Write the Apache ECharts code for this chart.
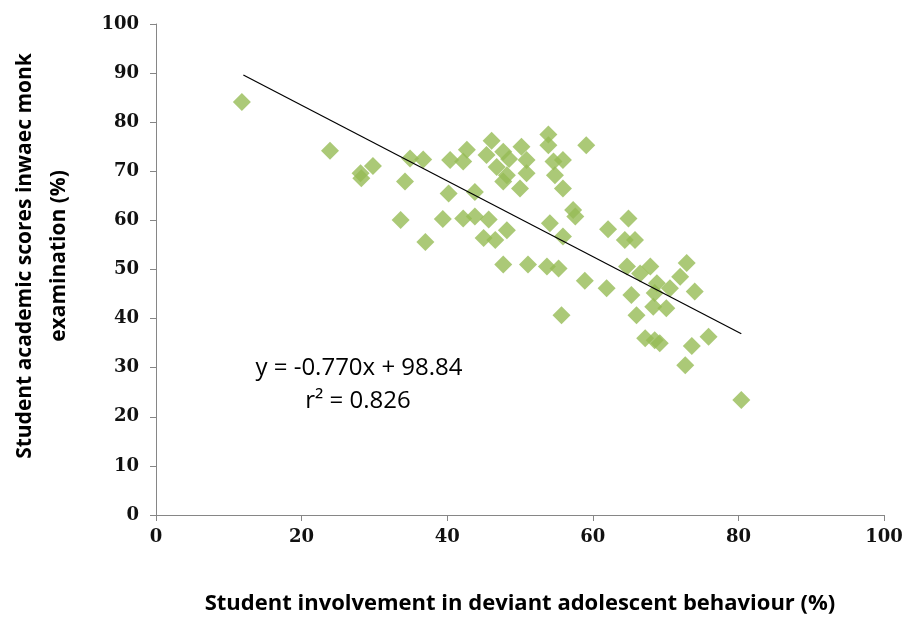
<!DOCTYPE html>
<html>
<head>
<meta charset="utf-8">
<script src="https://cdn.jsdelivr.net/npm/echarts@6/dist/echarts.min.js"></script>
<style>html,body{margin:0;padding:0;background:#fff;}#c{width:906px;height:619px;}</style>
</head>
<body>
<div id="c"></div>
<script>
var xTicks = [0, 20, 40, 60, 80, 100];
var yTicks = [0, 10, 20, 30, 40, 50, 60, 70, 80, 90, 100];
var points = [
  [11.8, 84.1], [23.9, 74.2], [28.1, 69.6], [28.2, 68.6], [29.8, 71.1],
  [33.6, 60.1], [34.2, 67.9], [34.9, 72.6], [36.7, 72.4], [37.0, 55.6],
  [39.4, 60.3], [40.2, 65.5], [40.4, 72.3], [42.2, 72.0], [42.7, 74.4],
  [42.2, 60.4], [43.8, 60.8], [43.8, 65.8], [45.0, 56.4], [45.4, 73.3],
  [45.7, 60.2], [46.1, 76.2], [46.6, 56.0], [46.8, 70.9], [47.7, 74.0],
  [47.7, 67.9], [48.2, 69.2], [48.2, 58.0], [47.7, 51.0], [50.2, 75.0],
  [50.9, 72.3], [50.9, 69.6], [50.0, 66.5], [51.1, 51.0], [53.9, 77.5],
  [53.9, 75.3], [54.6, 72.0], [55.9, 72.3], [54.8, 69.2], [55.9, 66.5],
  [59.1, 75.3], [57.3, 62.1], [57.6, 60.8], [54.1, 59.4], [55.9, 56.7],
  [53.7, 50.6], [55.3, 50.2], [58.9, 47.7], [55.7, 40.7], [62.1, 58.2],
  [64.9, 60.4], [64.4, 56.0], [65.8, 56.0], [61.9, 46.2], [64.7, 50.6],
  [67.9, 50.6], [66.5, 49.2], [72.9, 51.3], [72.0, 48.5], [68.8, 47.2],
  [70.6, 46.2], [68.5, 45.2], [74.0, 45.5], [65.3, 44.8], [68.3, 42.4],
  [70.1, 42.1], [66.0, 40.7], [67.2, 36.0], [68.5, 35.6], [69.2, 35.0],
  [73.6, 34.4], [75.9, 36.3], [72.7, 30.5], [80.4, 23.4], [48.5, 72.5]
];
var trendLine = [[12.0, 89.6], [80.4, 36.9]];
var equationText = 'y = -0.770x + 98.84';
var r2Text = 'r² = 0.826';
var xTitle = 'Student involvement in deviant adolescent behaviour (%)';
var yTitle = 'Student academic scores inwaec monk\nexamination (%)';

var chart = echarts.init(document.getElementById('c'));
var axisLineStyle = { color: '#868686', width: 1 };
var tickFont = { fontFamily: 'DejaVu Serif', fontWeight: 'bold', fontSize: 18, color: '#111' };
chart.setOption({
  animation: false,
  backgroundColor: '#fff',
  grid: { left: 156, right: 22, top: 24, bottom: 104, containLabel: false, outerBoundsMode: 'none' },
  xAxis: {
    type: 'value', min: 0, max: 100, interval: 20,
    axisLine: { show: true, lineStyle: axisLineStyle, onZero: false },
    axisTick: { show: true, length: 6, lineStyle: axisLineStyle },
    splitLine: { show: false },
    axisLabel: Object.assign({ margin: 13 }, tickFont),
    name: xTitle, nameLocation: 'middle', nameGap: 78,
    nameTextStyle: { fontFamily: 'Open Sans', fontWeight: 'bold', fontSize: 22, color: '#000' }
  },
  yAxis: {
    type: 'value', min: 0, max: 100, interval: 10,
    axisLine: { show: true, lineStyle: axisLineStyle, onZero: false },
    axisTick: { show: true, length: 6, lineStyle: axisLineStyle },
    splitLine: { show: false },
    axisLabel: Object.assign({ margin: 17 }, tickFont)
  },
  series: [
    {
      type: 'scatter', data: points, symbol: 'diamond', symbolSize: 18,
      itemStyle: { color: '#96BC55' },
      z: 2
    },
    {
      type: 'line', data: trendLine, symbol: 'none',
      lineStyle: { color: '#000', width: 1.2 }, z: 3
    }
  ],
  graphic: [
    { type: 'text', x: 42, y: 256, rotation: Math.PI / 2,
      style: { text: yTitle, fontFamily: 'Open Sans', fontWeight: 'bold', fontSize: 21, lineHeight: 34, fill: '#000', align: 'center', verticalAlign: 'middle' } },
    { type: 'text', x: 359, y: 368, style: { text: equationText, fontFamily: 'Open Sans', fontSize: 24, fill: '#000', align: 'center', verticalAlign: 'middle' } },
    { type: 'text', x: 358, y: 401, style: { text: r2Text, fontFamily: 'Open Sans', fontSize: 24, fill: '#000', align: 'center', verticalAlign: 'middle' } }
  ]
});
</script>
</body>
</html>
